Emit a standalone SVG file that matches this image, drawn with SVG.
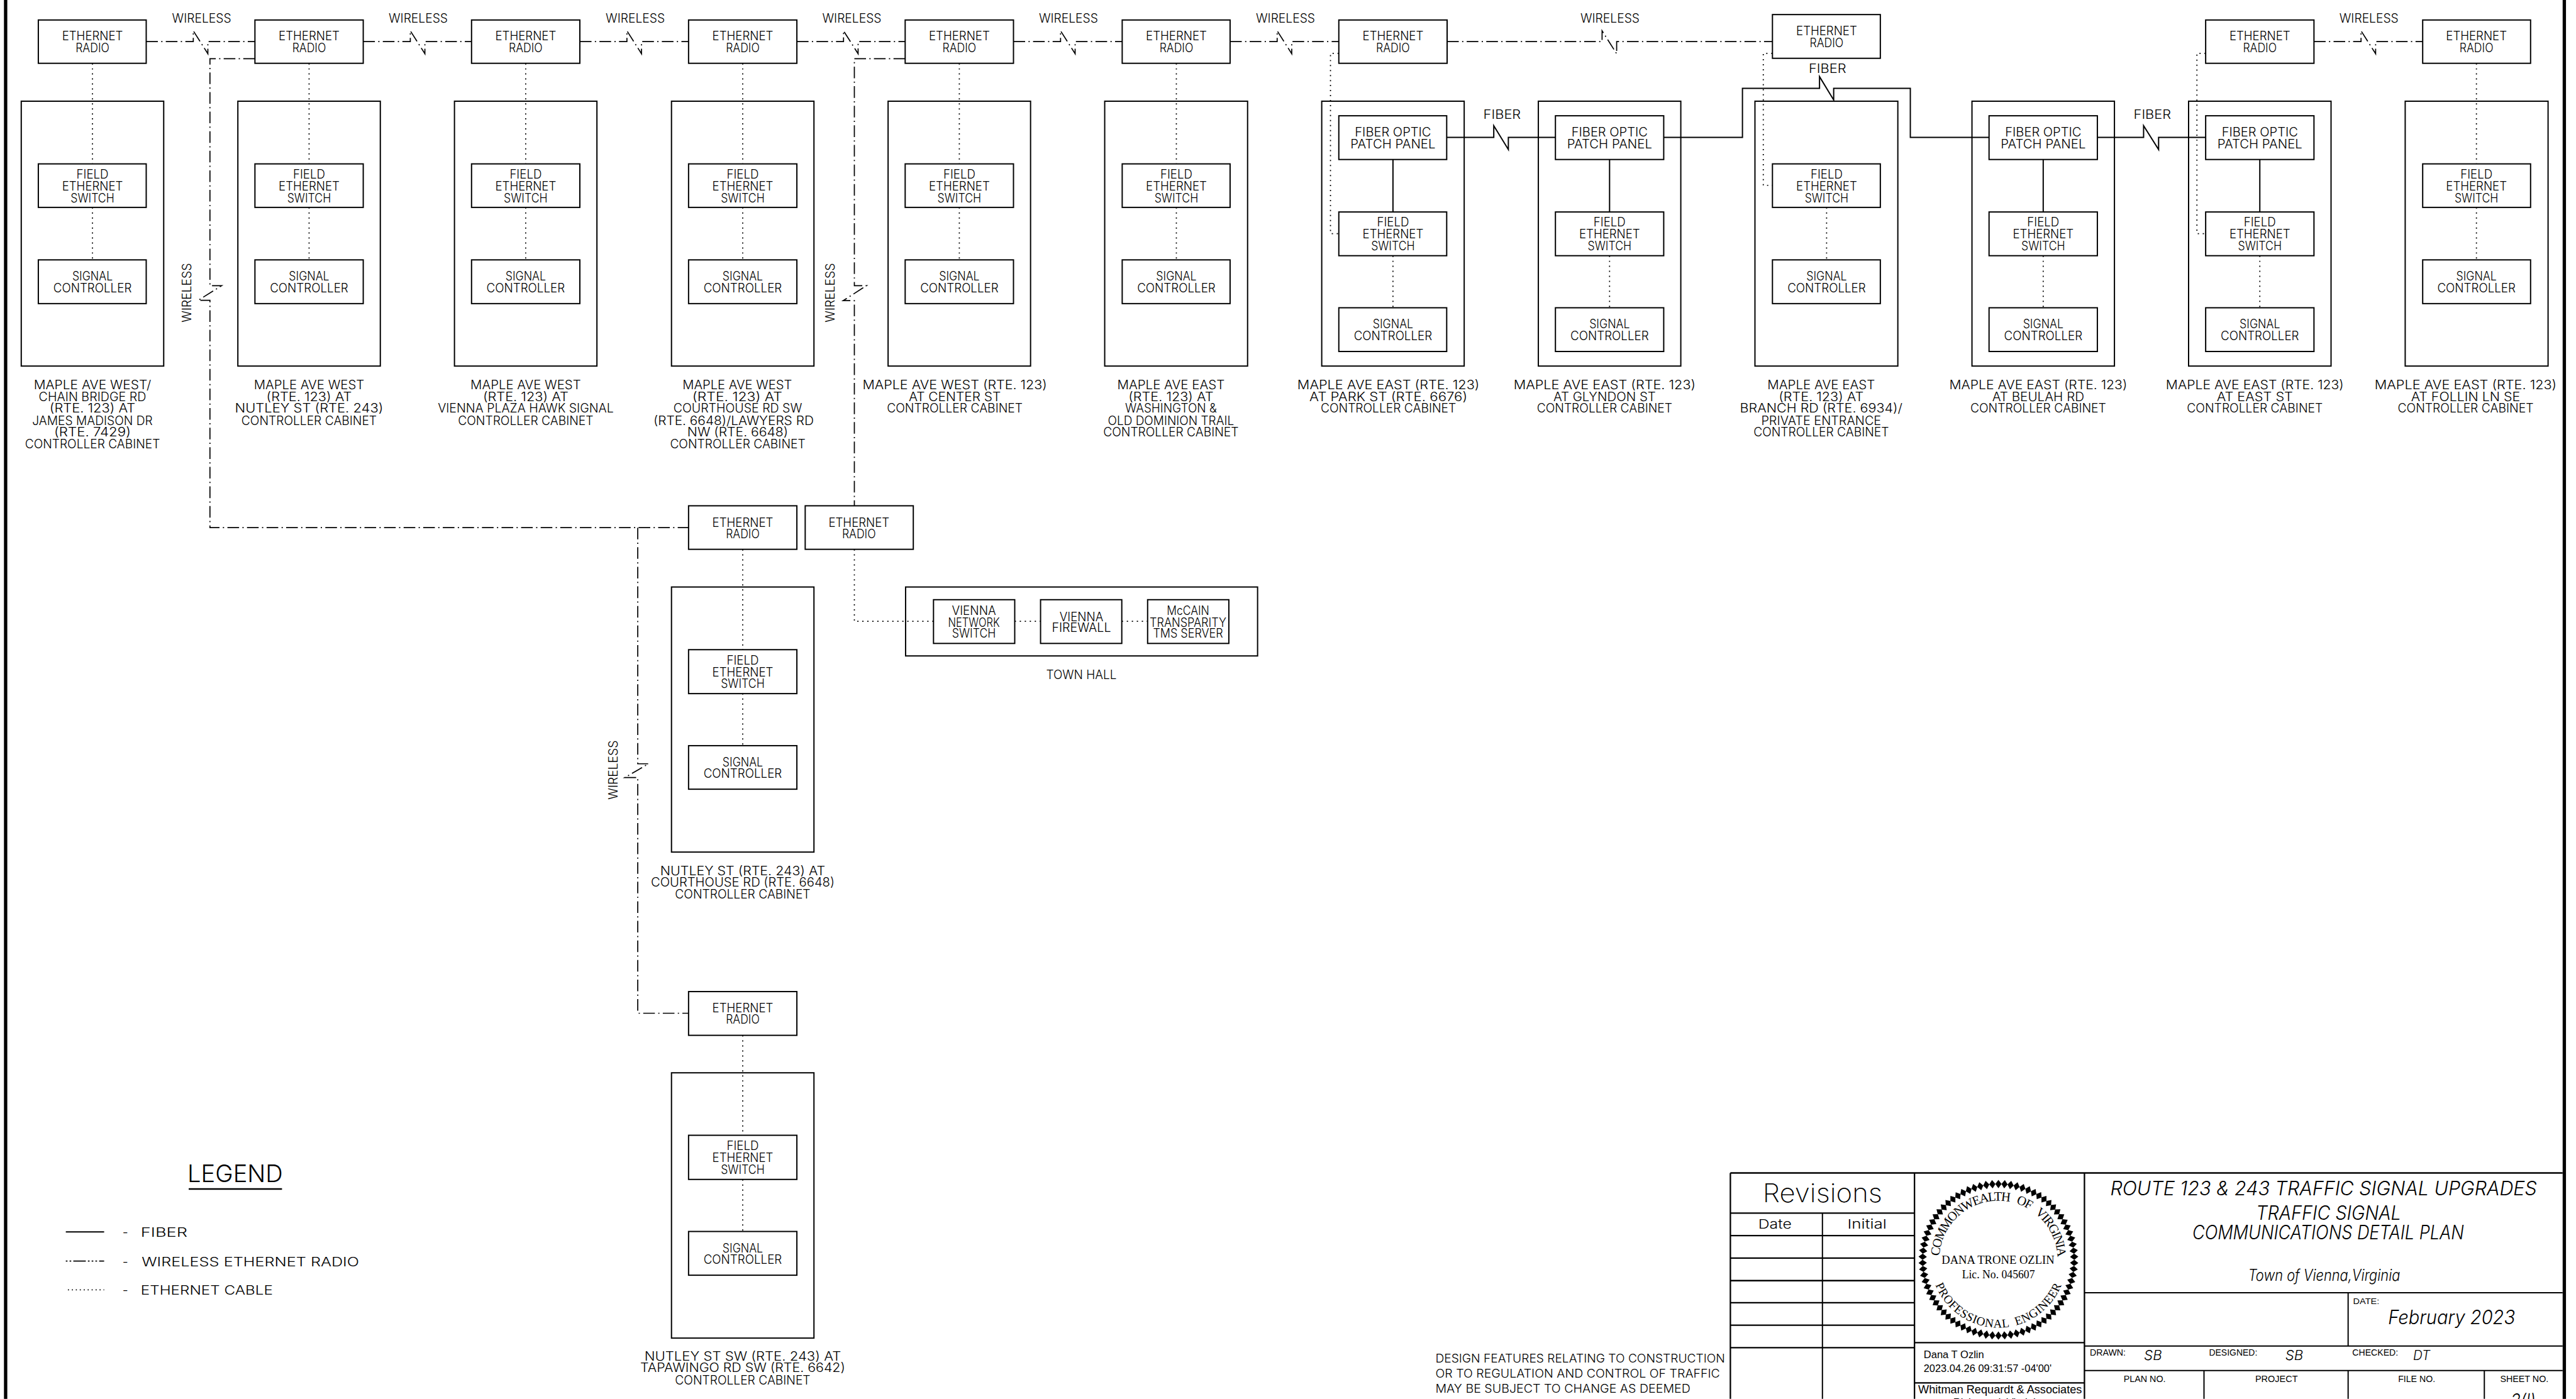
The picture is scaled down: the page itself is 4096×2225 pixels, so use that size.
<svg xmlns="http://www.w3.org/2000/svg" width="4096" height="2225" viewBox="0 0 4096 2225">
<style>
text{font-family:"Inter","Liberation Sans",Arial,sans-serif;font-weight:300;font-size:30px;text-anchor:middle;fill:#000}
.b{fill:none;stroke:#000;stroke-width:3}
.s{fill:none;stroke:#000;stroke-width:3}
.w{fill:none;stroke:#000;stroke-width:2.6;stroke-dasharray:28 8 3 8}
.d{fill:none;stroke:#000;stroke-width:2.6;stroke-dasharray:3 9}
.g{fill:none;stroke:#000;stroke-width:3.5}
.l{text-anchor:start}
.i{font-style:italic}
.f{font-family:"Liberation Serif",serif;font-weight:400}
.a{font-family:"Liberation Sans",Arial,sans-serif;font-weight:400}
</style>
<defs>
<polygon id="dia" points="4797.5,2833 4805,2843 4797.5,2853 4790,2843"/>
<g id="dia6"><use href="#dia"/><use href="#dia" transform="rotate(4.615 4797.5 3025)"/><use href="#dia" transform="rotate(9.23 4797.5 3025)"/><use href="#dia" transform="rotate(13.846 4797.5 3025)"/><use href="#dia" transform="rotate(18.46 4797.5 3025)"/><use href="#dia" transform="rotate(23.077 4797.5 3025)"/></g>
<path id="arcTop" d="M4655.5 3025A142 142 0 0 1 4939.5 3025"/>
<path id="arcBot" d="M4634.5 3025A163 163 0 0 0 4960.5 3025"/>
</defs>
<rect width="4096" height="2225" fill="#fff"/>
<g transform="scale(0.66235)">
<rect x="9.5" y="0" width="8" height="3359" fill="#000"/>
<rect x="6152" y="0" width="8" height="3359" fill="#000"/>

<g id="connectors">
<path class="w" d="M351 100H464V74L499 129V100H612"/>
<path class="w" d="M872 100H985V74L1020 129V100H1132"/>
<path class="w" d="M1392 100H1505V74L1540 129V100H1653"/>
<path class="w" d="M1913 100H2025V74L2060 129V100H2173"/>
<path class="w" d="M2433 100H2546V74L2581 129V100H2694"/>
<path class="w" d="M2953 100H3066V74L3101 129V100H3214"/>
<path class="w" d="M3474 100H3846V74L3881 129V100H4255"/>
<path class="w" d="M5555 100H5668V74L5703 129V100H5816"/>
<path class="w" d="M612 141H504V686H532L476 721H504V1267H1653"/>
<path class="w" d="M2173 141H2051V686H2080L2024 722H2051V1214"/>
<path class="w" d="M1531 1267V1834H1557L1500 1867H1531V2433H1653"/>
<path class="d" d="M222 152V393M222 498V624"/>
<path class="d" d="M742 152V393M742 498V624"/>
<path class="d" d="M1262 152V393M1262 498V624"/>
<path class="d" d="M1783 152V393M1783 498V624"/>
<path class="d" d="M2303 152V393M2303 498V624"/>
<path class="d" d="M2824 152V393M2824 498V624"/>
<path class="d" d="M3214 128H3194V561H3214M3344 614V739"/>
<path class="d" d="M3864 614V739"/>
<path class="d" d="M4255 128H4233V445H4255M4385 498V624"/>
<path class="d" d="M4905 614V739"/>
<path class="d" d="M5295 128H5274V561H5295M5425 614V739"/>
<path class="d" d="M5945 152V393M5945 498V624"/>
<path class="d" d="M1783 1319V1560M1783 1665V1790"/>
<path class="d" d="M2051 1319V1492H2241M2436 1492H2498M2693 1492H2755"/>
<path class="d" d="M1783 2486V2726M1783 2832V2957"/>
<path class="s" d="M3473 330H3586V302L3621 359V330H3734"/>
<path class="s" d="M3994 330H4183V212H4368V184L4402 240V212H4586V330H4775"/>
<path class="s" d="M5035 330H5146V302L5182 359V330H5295"/>
<path class="s" d="M3344 383V509M3864 383V509M4905 383V509M5425 383V509"/>
</g>

<g id="wireless-labels">
<text x="484" y="54" textLength="142" lengthAdjust="spacingAndGlyphs">WIRELESS</text>
<text x="1004" y="54" textLength="142" lengthAdjust="spacingAndGlyphs">WIRELESS</text>
<text x="1525" y="54" textLength="142" lengthAdjust="spacingAndGlyphs">WIRELESS</text>
<text x="2045" y="54" textLength="142" lengthAdjust="spacingAndGlyphs">WIRELESS</text>
<text x="2565" y="54" textLength="142" lengthAdjust="spacingAndGlyphs">WIRELESS</text>
<text x="3086" y="54" textLength="142" lengthAdjust="spacingAndGlyphs">WIRELESS</text>
<text x="3865" y="54" textLength="142" lengthAdjust="spacingAndGlyphs">WIRELESS</text>
<text x="5687" y="54" textLength="142" lengthAdjust="spacingAndGlyphs">WIRELESS</text>
<text x="459" y="703" transform="rotate(-90 459 703)" textLength="142" lengthAdjust="spacingAndGlyphs">WIRELESS</text>
<text x="2004" y="703" transform="rotate(-90 2004 703)" textLength="142" lengthAdjust="spacingAndGlyphs">WIRELESS</text>
<text x="1482" y="1849" transform="rotate(-90 1482 1849)" textLength="142" lengthAdjust="spacingAndGlyphs">WIRELESS</text>
<text x="3606" y="285" textLength="90" lengthAdjust="spacingAndGlyphs">FIBER</text>
<text x="4387" y="175" textLength="90" lengthAdjust="spacingAndGlyphs">FIBER</text>
<text x="5167" y="285" textLength="90" lengthAdjust="spacingAndGlyphs">FIBER</text>
</g>

<g id="col1">
<rect class="b" x="92" y="48" width="259" height="104"/>
<text x="222" y="97" textLength="146" lengthAdjust="spacingAndGlyphs">ETHERNET</text><text x="222" y="126" textLength="81" lengthAdjust="spacingAndGlyphs">RADIO</text>
<rect class="b" x="51" y="243" width="342" height="636"/>
<rect class="b" x="92" y="393.5" width="259" height="104.5"/>
<text x="222" y="429.5" textLength="77" lengthAdjust="spacingAndGlyphs">FIELD</text><text x="222" y="457.5" textLength="146" lengthAdjust="spacingAndGlyphs">ETHERNET</text><text x="222" y="486" textLength="105" lengthAdjust="spacingAndGlyphs">SWITCH</text>
<rect class="b" x="92" y="624" width="259" height="105"/>
<text x="222" y="674" textLength="97" lengthAdjust="spacingAndGlyphs">SIGNAL</text><text x="222" y="702.5" textLength="188" lengthAdjust="spacingAndGlyphs">CONTROLLER</text>
<text x="222" y="935" textLength="282" lengthAdjust="spacingAndGlyphs">MAPLE AVE WEST/</text>
<text x="222" y="963" textLength="258" lengthAdjust="spacingAndGlyphs">CHAIN BRIDGE RD</text>
<text x="222" y="991" textLength="206" lengthAdjust="spacingAndGlyphs">(RTE. 123) AT</text>
<text x="222" y="1020" textLength="289" lengthAdjust="spacingAndGlyphs">JAMES MADISON DR</text>
<text x="222" y="1048" textLength="184" lengthAdjust="spacingAndGlyphs">(RTE. 7429)</text>
<text x="222" y="1076" textLength="324" lengthAdjust="spacingAndGlyphs">CONTROLLER CABINET</text>
</g>

<g id="col2">
<rect class="b" x="612" y="48" width="260" height="104"/>
<text x="742" y="97" textLength="146" lengthAdjust="spacingAndGlyphs">ETHERNET</text><text x="742" y="126" textLength="81" lengthAdjust="spacingAndGlyphs">RADIO</text>
<rect class="b" x="571" y="243" width="342" height="636"/>
<rect class="b" x="612" y="393.5" width="260" height="104.5"/>
<text x="742" y="429.5" textLength="77" lengthAdjust="spacingAndGlyphs">FIELD</text><text x="742" y="457.5" textLength="146" lengthAdjust="spacingAndGlyphs">ETHERNET</text><text x="742" y="486" textLength="105" lengthAdjust="spacingAndGlyphs">SWITCH</text>
<rect class="b" x="612" y="624" width="260" height="105"/>
<text x="742" y="674" textLength="97" lengthAdjust="spacingAndGlyphs">SIGNAL</text><text x="742" y="702.5" textLength="188" lengthAdjust="spacingAndGlyphs">CONTROLLER</text>
<text x="742" y="935" textLength="265" lengthAdjust="spacingAndGlyphs">MAPLE AVE WEST</text>
<text x="742" y="963" textLength="205" lengthAdjust="spacingAndGlyphs">(RTE. 123) AT</text>
<text x="742" y="991" textLength="356" lengthAdjust="spacingAndGlyphs">NUTLEY ST (RTE. 243)</text>
<text x="742" y="1020" textLength="325" lengthAdjust="spacingAndGlyphs">CONTROLLER CABINET</text>
</g>

<g id="col3">
<rect class="b" x="1132" y="48" width="260" height="104"/>
<text x="1262" y="97" textLength="146" lengthAdjust="spacingAndGlyphs">ETHERNET</text><text x="1262" y="126" textLength="81" lengthAdjust="spacingAndGlyphs">RADIO</text>
<rect class="b" x="1091" y="243" width="342" height="636"/>
<rect class="b" x="1132" y="393.5" width="260" height="104.5"/>
<text x="1262" y="429.5" textLength="77" lengthAdjust="spacingAndGlyphs">FIELD</text><text x="1262" y="457.5" textLength="146" lengthAdjust="spacingAndGlyphs">ETHERNET</text><text x="1262" y="486" textLength="105" lengthAdjust="spacingAndGlyphs">SWITCH</text>
<rect class="b" x="1132" y="624" width="260" height="105"/>
<text x="1262" y="674" textLength="97" lengthAdjust="spacingAndGlyphs">SIGNAL</text><text x="1262" y="702.5" textLength="188" lengthAdjust="spacingAndGlyphs">CONTROLLER</text>
<text x="1262" y="935" textLength="265" lengthAdjust="spacingAndGlyphs">MAPLE AVE WEST</text>
<text x="1262" y="963" textLength="205" lengthAdjust="spacingAndGlyphs">(RTE. 123) AT</text>
<text x="1262" y="991" textLength="422" lengthAdjust="spacingAndGlyphs">VIENNA PLAZA HAWK SIGNAL</text>
<text x="1262" y="1020" textLength="325" lengthAdjust="spacingAndGlyphs">CONTROLLER CABINET</text>
</g>

<g id="col4">
<rect class="b" x="1653" y="48" width="260" height="104"/>
<text x="1783" y="97" textLength="146" lengthAdjust="spacingAndGlyphs">ETHERNET</text><text x="1783" y="126" textLength="81" lengthAdjust="spacingAndGlyphs">RADIO</text>
<rect class="b" x="1612" y="243" width="342" height="636"/>
<rect class="b" x="1653" y="393.5" width="260" height="104.5"/>
<text x="1783" y="429.5" textLength="77" lengthAdjust="spacingAndGlyphs">FIELD</text><text x="1783" y="457.5" textLength="146" lengthAdjust="spacingAndGlyphs">ETHERNET</text><text x="1783" y="486" textLength="105" lengthAdjust="spacingAndGlyphs">SWITCH</text>
<rect class="b" x="1653" y="624" width="260" height="105"/>
<text x="1783" y="674" textLength="97" lengthAdjust="spacingAndGlyphs">SIGNAL</text><text x="1783" y="702.5" textLength="188" lengthAdjust="spacingAndGlyphs">CONTROLLER</text>
<text x="1770" y="935" textLength="263" lengthAdjust="spacingAndGlyphs">MAPLE AVE WEST</text>
<text x="1770" y="963" textLength="216" lengthAdjust="spacingAndGlyphs">(RTE. 123) AT</text>
<text x="1771" y="991" textLength="309" lengthAdjust="spacingAndGlyphs">COURTHOUSE RD SW</text>
<text x="1761" y="1020" textLength="385" lengthAdjust="spacingAndGlyphs">(RTE. 6648)/LAWYERS RD</text>
<text x="1771" y="1048" textLength="242" lengthAdjust="spacingAndGlyphs">NW (RTE. 6648)</text>
<text x="1771" y="1076" textLength="325" lengthAdjust="spacingAndGlyphs">CONTROLLER CABINET</text>
</g>

<g id="col5">
<rect class="b" x="2173" y="48" width="260" height="104"/>
<text x="2303" y="97" textLength="146" lengthAdjust="spacingAndGlyphs">ETHERNET</text><text x="2303" y="126" textLength="81" lengthAdjust="spacingAndGlyphs">RADIO</text>
<rect class="b" x="2132" y="243" width="342" height="636"/>
<rect class="b" x="2173" y="393.5" width="260" height="104.5"/>
<text x="2303" y="429.5" textLength="77" lengthAdjust="spacingAndGlyphs">FIELD</text><text x="2303" y="457.5" textLength="146" lengthAdjust="spacingAndGlyphs">ETHERNET</text><text x="2303" y="486" textLength="105" lengthAdjust="spacingAndGlyphs">SWITCH</text>
<rect class="b" x="2173" y="624" width="260" height="105"/>
<text x="2303" y="674" textLength="97" lengthAdjust="spacingAndGlyphs">SIGNAL</text><text x="2303" y="702.5" textLength="188" lengthAdjust="spacingAndGlyphs">CONTROLLER</text>
<text x="2292" y="935" textLength="443" lengthAdjust="spacingAndGlyphs">MAPLE AVE WEST (RTE. 123)</text>
<text x="2292" y="963" textLength="221" lengthAdjust="spacingAndGlyphs">AT CENTER ST</text>
<text x="2292" y="991" textLength="326" lengthAdjust="spacingAndGlyphs">CONTROLLER CABINET</text>
</g>

<g id="col6">
<rect class="b" x="2694" y="48" width="259" height="104"/>
<text x="2824" y="97" textLength="146" lengthAdjust="spacingAndGlyphs">ETHERNET</text><text x="2824" y="126" textLength="81" lengthAdjust="spacingAndGlyphs">RADIO</text>
<rect class="b" x="2652" y="243" width="343" height="636"/>
<rect class="b" x="2694" y="393.5" width="259" height="104.5"/>
<text x="2824" y="429.5" textLength="77" lengthAdjust="spacingAndGlyphs">FIELD</text><text x="2824" y="457.5" textLength="146" lengthAdjust="spacingAndGlyphs">ETHERNET</text><text x="2824" y="486" textLength="105" lengthAdjust="spacingAndGlyphs">SWITCH</text>
<rect class="b" x="2694" y="624" width="259" height="105"/>
<text x="2824" y="674" textLength="97" lengthAdjust="spacingAndGlyphs">SIGNAL</text><text x="2824" y="702.5" textLength="188" lengthAdjust="spacingAndGlyphs">CONTROLLER</text>
<text x="2811" y="935" textLength="258" lengthAdjust="spacingAndGlyphs">MAPLE AVE EAST</text>
<text x="2811" y="963" textLength="204" lengthAdjust="spacingAndGlyphs">(RTE. 123) AT</text>
<text x="2811" y="991" textLength="220" lengthAdjust="spacingAndGlyphs">WASHINGTON &amp;</text>
<text x="2811" y="1020" textLength="303" lengthAdjust="spacingAndGlyphs">OLD DOMINION TRAIL</text>
<text x="2811" y="1048" textLength="325" lengthAdjust="spacingAndGlyphs">CONTROLLER CABINET</text>
</g>

<g id="col7">
<rect class="b" x="3214" y="48" width="260" height="104"/>
<text x="3344" y="97" textLength="146" lengthAdjust="spacingAndGlyphs">ETHERNET</text><text x="3344" y="126" textLength="81" lengthAdjust="spacingAndGlyphs">RADIO</text>
<rect class="b" x="3173" y="243" width="342" height="636"/>
<rect class="b" x="3214" y="278" width="259" height="105"/>
<text x="3344" y="328" textLength="183" lengthAdjust="spacingAndGlyphs">FIBER OPTIC</text><text x="3344" y="356" textLength="204" lengthAdjust="spacingAndGlyphs">PATCH PANEL</text>
<rect class="b" x="3214" y="509" width="259" height="105"/>
<text x="3344" y="544" textLength="77" lengthAdjust="spacingAndGlyphs">FIELD</text><text x="3344" y="572" textLength="146" lengthAdjust="spacingAndGlyphs">ETHERNET</text><text x="3344" y="601" textLength="105" lengthAdjust="spacingAndGlyphs">SWITCH</text>
<rect class="b" x="3214" y="739" width="259" height="105"/>
<text x="3344" y="788" textLength="97" lengthAdjust="spacingAndGlyphs">SIGNAL</text><text x="3344" y="817" textLength="188" lengthAdjust="spacingAndGlyphs">CONTROLLER</text>
<text x="3333" y="935" textLength="437" lengthAdjust="spacingAndGlyphs">MAPLE AVE EAST (RTE. 123)</text>
<text x="3333" y="963" textLength="379" lengthAdjust="spacingAndGlyphs">AT PARK ST (RTE. 6676)</text>
<text x="3333" y="991" textLength="325" lengthAdjust="spacingAndGlyphs">CONTROLLER CABINET</text>
</g>

<g id="col8">
<rect class="b" x="3693" y="243" width="342" height="636"/>
<rect class="b" x="3734" y="278" width="260" height="105"/>
<text x="3864" y="328" textLength="183" lengthAdjust="spacingAndGlyphs">FIBER OPTIC</text><text x="3864" y="356" textLength="204" lengthAdjust="spacingAndGlyphs">PATCH PANEL</text>
<rect class="b" x="3734" y="509" width="260" height="105"/>
<text x="3864" y="544" textLength="77" lengthAdjust="spacingAndGlyphs">FIELD</text><text x="3864" y="572" textLength="146" lengthAdjust="spacingAndGlyphs">ETHERNET</text><text x="3864" y="601" textLength="105" lengthAdjust="spacingAndGlyphs">SWITCH</text>
<rect class="b" x="3734" y="739" width="260" height="105"/>
<text x="3864" y="788" textLength="97" lengthAdjust="spacingAndGlyphs">SIGNAL</text><text x="3864" y="817" textLength="188" lengthAdjust="spacingAndGlyphs">CONTROLLER</text>
<text x="3852" y="935" textLength="437" lengthAdjust="spacingAndGlyphs">MAPLE AVE EAST (RTE. 123)</text>
<text x="3852" y="963" textLength="246" lengthAdjust="spacingAndGlyphs">AT GLYNDON ST</text>
<text x="3852" y="991" textLength="325" lengthAdjust="spacingAndGlyphs">CONTROLLER CABINET</text>
</g>

<g id="col9">
<rect class="b" x="4255" y="35" width="259" height="105"/>
<text x="4385" y="84" textLength="146" lengthAdjust="spacingAndGlyphs">ETHERNET</text><text x="4385" y="113" textLength="81" lengthAdjust="spacingAndGlyphs">RADIO</text>
<rect class="b" x="4213" y="243" width="343" height="636"/>
<rect class="b" x="4255" y="393.5" width="259" height="104.5"/>
<text x="4385" y="429.5" textLength="77" lengthAdjust="spacingAndGlyphs">FIELD</text><text x="4385" y="457.5" textLength="146" lengthAdjust="spacingAndGlyphs">ETHERNET</text><text x="4385" y="486" textLength="105" lengthAdjust="spacingAndGlyphs">SWITCH</text>
<rect class="b" x="4255" y="624" width="259" height="105"/>
<text x="4385" y="674" textLength="97" lengthAdjust="spacingAndGlyphs">SIGNAL</text><text x="4385" y="702.5" textLength="188" lengthAdjust="spacingAndGlyphs">CONTROLLER</text>
<text x="4372" y="935" textLength="258" lengthAdjust="spacingAndGlyphs">MAPLE AVE EAST</text>
<text x="4372" y="963" textLength="204" lengthAdjust="spacingAndGlyphs">(RTE. 123) AT</text>
<text x="4372" y="991" textLength="390" lengthAdjust="spacingAndGlyphs">BRANCH RD (RTE. 6934)/</text>
<text x="4372" y="1020" textLength="288" lengthAdjust="spacingAndGlyphs">PRIVATE ENTRANCE</text>
<text x="4372" y="1048" textLength="325" lengthAdjust="spacingAndGlyphs">CONTROLLER CABINET</text>
</g>

<g id="col10">
<rect class="b" x="4734" y="243" width="342" height="636"/>
<rect class="b" x="4775" y="278" width="260" height="105"/>
<text x="4905" y="328" textLength="183" lengthAdjust="spacingAndGlyphs">FIBER OPTIC</text><text x="4905" y="356" textLength="204" lengthAdjust="spacingAndGlyphs">PATCH PANEL</text>
<rect class="b" x="4775" y="509" width="260" height="105"/>
<text x="4905" y="544" textLength="77" lengthAdjust="spacingAndGlyphs">FIELD</text><text x="4905" y="572" textLength="146" lengthAdjust="spacingAndGlyphs">ETHERNET</text><text x="4905" y="601" textLength="105" lengthAdjust="spacingAndGlyphs">SWITCH</text>
<rect class="b" x="4775" y="739" width="260" height="105"/>
<text x="4905" y="788" textLength="97" lengthAdjust="spacingAndGlyphs">SIGNAL</text><text x="4905" y="817" textLength="188" lengthAdjust="spacingAndGlyphs">CONTROLLER</text>
<text x="4893" y="935" textLength="427" lengthAdjust="spacingAndGlyphs">MAPLE AVE EAST (RTE. 123)</text>
<text x="4893" y="963" textLength="221" lengthAdjust="spacingAndGlyphs">AT BEULAH RD</text>
<text x="4893" y="991" textLength="326" lengthAdjust="spacingAndGlyphs">CONTROLLER CABINET</text>
</g>

<g id="col11">
<rect class="b" x="5295" y="48" width="260" height="104"/>
<text x="5425" y="97" textLength="146" lengthAdjust="spacingAndGlyphs">ETHERNET</text><text x="5425" y="126" textLength="81" lengthAdjust="spacingAndGlyphs">RADIO</text>
<rect class="b" x="5254" y="243" width="342" height="636"/>
<rect class="b" x="5295" y="278" width="260" height="105"/>
<text x="5425" y="328" textLength="183" lengthAdjust="spacingAndGlyphs">FIBER OPTIC</text><text x="5425" y="356" textLength="204" lengthAdjust="spacingAndGlyphs">PATCH PANEL</text>
<rect class="b" x="5295" y="509" width="260" height="105"/>
<text x="5425" y="544" textLength="77" lengthAdjust="spacingAndGlyphs">FIELD</text><text x="5425" y="572" textLength="146" lengthAdjust="spacingAndGlyphs">ETHERNET</text><text x="5425" y="601" textLength="105" lengthAdjust="spacingAndGlyphs">SWITCH</text>
<rect class="b" x="5295" y="739" width="260" height="105"/>
<text x="5425" y="788" textLength="97" lengthAdjust="spacingAndGlyphs">SIGNAL</text><text x="5425" y="817" textLength="188" lengthAdjust="spacingAndGlyphs">CONTROLLER</text>
<text x="5413" y="935" textLength="427" lengthAdjust="spacingAndGlyphs">MAPLE AVE EAST (RTE. 123)</text>
<text x="5413" y="963" textLength="183" lengthAdjust="spacingAndGlyphs">AT EAST ST</text>
<text x="5413" y="991" textLength="326" lengthAdjust="spacingAndGlyphs">CONTROLLER CABINET</text>
</g>

<g id="col12">
<rect class="b" x="5816" y="48" width="259" height="104"/>
<text x="5945" y="97" textLength="146" lengthAdjust="spacingAndGlyphs">ETHERNET</text><text x="5945" y="126" textLength="81" lengthAdjust="spacingAndGlyphs">RADIO</text>
<rect class="b" x="5774" y="243" width="343" height="636"/>
<rect class="b" x="5816" y="393.5" width="259" height="104.5"/>
<text x="5945" y="429.5" textLength="77" lengthAdjust="spacingAndGlyphs">FIELD</text><text x="5945" y="457.5" textLength="146" lengthAdjust="spacingAndGlyphs">ETHERNET</text><text x="5945" y="486" textLength="105" lengthAdjust="spacingAndGlyphs">SWITCH</text>
<rect class="b" x="5816" y="624" width="259" height="105"/>
<text x="5945" y="674" textLength="97" lengthAdjust="spacingAndGlyphs">SIGNAL</text><text x="5945" y="702.5" textLength="188" lengthAdjust="spacingAndGlyphs">CONTROLLER</text>
<text x="5919" y="935" textLength="437" lengthAdjust="spacingAndGlyphs">MAPLE AVE EAST (RTE. 123)</text>
<text x="5919" y="963" textLength="262" lengthAdjust="spacingAndGlyphs">AT FOLLIN LN SE</text>
<text x="5919" y="991" textLength="326" lengthAdjust="spacingAndGlyphs">CONTROLLER CABINET</text>
</g>

<g id="nutley-courthouse">
<rect class="b" x="1653" y="1214.5" width="260" height="104.5"/>
<text x="1783" y="1265" textLength="146" lengthAdjust="spacingAndGlyphs">ETHERNET</text><text x="1783" y="1292" textLength="81" lengthAdjust="spacingAndGlyphs">RADIO</text>
<rect class="b" x="1612" y="1409.5" width="342" height="636.5"/>
<rect class="b" x="1653" y="1560" width="260" height="105.5"/>
<text x="1783" y="1596" textLength="77" lengthAdjust="spacingAndGlyphs">FIELD</text><text x="1783" y="1624" textLength="146" lengthAdjust="spacingAndGlyphs">ETHERNET</text><text x="1783" y="1652" textLength="105" lengthAdjust="spacingAndGlyphs">SWITCH</text>
<rect class="b" x="1653" y="1790.5" width="260" height="104.5"/>
<text x="1783" y="1840" textLength="97" lengthAdjust="spacingAndGlyphs">SIGNAL</text><text x="1783" y="1868" textLength="188" lengthAdjust="spacingAndGlyphs">CONTROLLER</text>
<text x="1783" y="2101" textLength="396" lengthAdjust="spacingAndGlyphs">NUTLEY ST (RTE. 243) AT</text>
<text x="1783" y="2129" textLength="441" lengthAdjust="spacingAndGlyphs">COURTHOUSE RD (RTE. 6648)</text>
<text x="1783" y="2157" textLength="325" lengthAdjust="spacingAndGlyphs">CONTROLLER CABINET</text>
</g>

<g id="town-hall">
<rect class="b" x="1933" y="1214.5" width="259.5" height="104.5"/>
<text x="2062" y="1265" textLength="146" lengthAdjust="spacingAndGlyphs">ETHERNET</text><text x="2062" y="1292" textLength="81" lengthAdjust="spacingAndGlyphs">RADIO</text>
<rect class="b" x="2174" y="1409.5" width="845" height="165.5"/>
<rect class="b" x="2241" y="1440" width="195" height="105"/>
<text x="2338" y="1477" textLength="106" lengthAdjust="spacingAndGlyphs">VIENNA</text><text x="2338" y="1504.5" textLength="124" lengthAdjust="spacingAndGlyphs">NETWORK</text><text x="2338" y="1531.5" textLength="105" lengthAdjust="spacingAndGlyphs">SWITCH</text>
<rect class="b" x="2498" y="1440" width="195" height="105"/>
<text x="2596" y="1491" textLength="105" lengthAdjust="spacingAndGlyphs">VIENNA</text><text x="2596" y="1518" textLength="142" lengthAdjust="spacingAndGlyphs">FIREWALL</text>
<rect class="b" x="2755" y="1440" width="195" height="105"/>
<text x="2852" y="1477" textLength="102" lengthAdjust="spacingAndGlyphs">McCAIN</text><text x="2852" y="1504.5" textLength="184" lengthAdjust="spacingAndGlyphs">TRANSPARITY</text><text x="2852" y="1531.5" textLength="168" lengthAdjust="spacingAndGlyphs">TMS SERVER</text>
<text x="2596" y="1631" textLength="169" lengthAdjust="spacingAndGlyphs">TOWN HALL</text>
</g>

<g id="nutley-tapawingo">
<rect class="b" x="1653" y="2381" width="260" height="105"/>
<text x="1783" y="2431" textLength="146" lengthAdjust="spacingAndGlyphs">ETHERNET</text><text x="1783" y="2458" textLength="81" lengthAdjust="spacingAndGlyphs">RADIO</text>
<rect class="b" x="1612" y="2576" width="342" height="637"/>
<rect class="b" x="1653" y="2726" width="260" height="106"/>
<text x="1783" y="2762" textLength="77" lengthAdjust="spacingAndGlyphs">FIELD</text><text x="1783" y="2790" textLength="146" lengthAdjust="spacingAndGlyphs">ETHERNET</text><text x="1783" y="2818" textLength="105" lengthAdjust="spacingAndGlyphs">SWITCH</text>
<rect class="b" x="1653" y="2957" width="260" height="105"/>
<text x="1783" y="3007" textLength="97" lengthAdjust="spacingAndGlyphs">SIGNAL</text><text x="1783" y="3035" textLength="188" lengthAdjust="spacingAndGlyphs">CONTROLLER</text>
<text x="1783" y="3267" textLength="472" lengthAdjust="spacingAndGlyphs">NUTLEY ST SW (RTE. 243) AT</text>
<text x="1783" y="3295" textLength="492" lengthAdjust="spacingAndGlyphs">TAPAWINGO RD SW (RTE. 6642)</text>
<text x="1783" y="3324" textLength="325" lengthAdjust="spacingAndGlyphs">CONTROLLER CABINET</text>
</g>

<g id="legend">
<text x="564.5" y="2839" style="font-size:58px" textLength="229" lengthAdjust="spacingAndGlyphs">LEGEND</text>
<path d="M453 2855H677" stroke="#000" stroke-width="4" fill="none"/>
<path class="s" d="M158 2958H250"/>
<path class="w" d="M158 3028H250" style="stroke-dasharray:4 5 4 5 30 5 4 5"/>
<path class="d" d="M163 3097H250" style="stroke-dasharray:2.5 7"/>
<text x="301" y="2970">-</text><text x="301" y="3040">-</text><text x="301" y="3109">-</text>
<text class="l" x="338" y="2970" textLength="112" lengthAdjust="spacingAndGlyphs">FIBER</text>
<text class="l" x="340" y="3040" textLength="522" lengthAdjust="spacingAndGlyphs">WIRELESS ETHERNET RADIO</text>
<text class="l" x="338" y="3109" textLength="317" lengthAdjust="spacingAndGlyphs">ETHERNET CABLE</text>
</g>

<g id="notes">
<text class="l" style="font-size:28px" x="3446" y="3272" textLength="695" lengthAdjust="spacingAndGlyphs">DESIGN FEATURES RELATING TO CONSTRUCTION</text>
<text class="l" style="font-size:28px" x="3446" y="3308" textLength="683" lengthAdjust="spacingAndGlyphs">OR TO REGULATION AND CONTROL OF TRAFFIC</text>
<text class="l" style="font-size:28px" x="3446" y="3344" textLength="612" lengthAdjust="spacingAndGlyphs">MAY BE SUBJECT TO CHANGE AS DEEMED</text>
</g>

<g id="title-block">
<path class="g" d="M4154 2816.5H6152M4154 2816.5V3359M4596 2816.5V3359M5004 2816.5V3359"/>
<path class="g" d="M4154 2913H4596M4154 2967H4596M4154 3021H4596M4154 3075H4596M4154 3128H4596M4154 3182H4596M4154 3236H4596M4596 3224H5004M4596 3320.5H5004"/>
<path class="s" d="M4375 2913V3359M5004 3104H6152M5004 3232H6152M5004 3291H6152M5637 3104V3232M5291 3291V3359M5637 3291V3359M5964 3291V3359"/>
<text x="4375" y="2887" style="font-size:62px;font-weight:200" textLength="287" lengthAdjust="spacingAndGlyphs">Revisions</text>
<text x="4261" y="2950" style="font-size:31px" textLength="80" lengthAdjust="spacingAndGlyphs">Date</text>
<text x="4482" y="2950" style="font-size:31px" textLength="94" lengthAdjust="spacingAndGlyphs">Initial</text>
<text class="l a" x="4618" y="3261" style="font-size:24px" textLength="145" lengthAdjust="spacingAndGlyphs">Dana T Ozlin</text>
<text class="l a" x="4618" y="3294" style="font-size:24px" textLength="307" lengthAdjust="spacingAndGlyphs">2023.04.26 09:31:57 -04'00'</text>
<text class="l a" x="4605" y="3345" style="font-size:28px" textLength="393" lengthAdjust="spacingAndGlyphs">Whitman Requardt &amp; Associates</text>
<text class="a" x="4795" y="3378" style="font-size:28px" textLength="212" lengthAdjust="spacingAndGlyphs">Richmond, Virginia</text>
<text class="i" x="5578" y="2870.5" style="font-size:46px" textLength="1024" lengthAdjust="spacingAndGlyphs">ROUTE 123 &amp; 243 TRAFFIC SIGNAL UPGRADES</text>
<text class="i" x="5590" y="2929" style="font-size:46px" textLength="348" lengthAdjust="spacingAndGlyphs">TRAFFIC SIGNAL</text>
<text class="i" x="5589" y="2976" style="font-size:46px" textLength="652" lengthAdjust="spacingAndGlyphs">COMMUNICATIONS DETAIL PLAN</text>
<text class="i" x="5579.5" y="3075" style="font-size:38px" textLength="365" lengthAdjust="spacingAndGlyphs">Town of Vienna,Virginia</text>
<text class="l a" x="5649" y="3131" style="font-size:20px" textLength="63" lengthAdjust="spacingAndGlyphs">DATE:</text>
<text class="i" x="5885.5" y="3179.5" style="font-size:46px" textLength="305" lengthAdjust="spacingAndGlyphs">February 2023</text>
<text class="l a" x="5017" y="3254.5" style="font-size:22px" textLength="86" lengthAdjust="spacingAndGlyphs">DRAWN:</text>
<text class="l i" x="5147" y="3265.5" style="font-size:33px" textLength="43" lengthAdjust="spacingAndGlyphs">SB</text>
<text class="l a" x="5303" y="3254.5" style="font-size:22px" textLength="116" lengthAdjust="spacingAndGlyphs">DESIGNED:</text>
<text class="l i" x="5486" y="3265.5" style="font-size:33px" textLength="43" lengthAdjust="spacingAndGlyphs">SB</text>
<text class="l a" x="5647" y="3254.5" style="font-size:22px" textLength="110" lengthAdjust="spacingAndGlyphs">CHECKED:</text>
<text class="l i" x="5793" y="3265.5" style="font-size:33px" textLength="41" lengthAdjust="spacingAndGlyphs">DT</text>
<text class="a" x="5148.5" y="3318" style="font-size:21px" textLength="101" lengthAdjust="spacingAndGlyphs">PLAN NO.</text>
<text class="a" x="5465" y="3318" style="font-size:21px" textLength="102" lengthAdjust="spacingAndGlyphs">PROJECT</text>
<text class="a" x="5801.5" y="3318" style="font-size:21px" textLength="89" lengthAdjust="spacingAndGlyphs">FILE NO.</text>
<text class="a" x="6060" y="3318" style="font-size:21px" textLength="116" lengthAdjust="spacingAndGlyphs">SHEET NO.</text>
<text class="i" x="6057" y="3380" style="font-size:46px" textLength="60" lengthAdjust="spacingAndGlyphs">3(l)</text>
</g>

<g id="seal">
<g id="seal-ring">
<use href="#dia6"/><use href="#dia6" transform="rotate(27.692 4797.5 3025)"/><use href="#dia6" transform="rotate(55.385 4797.5 3025)"/><use href="#dia6" transform="rotate(83.077 4797.5 3025)"/><use href="#dia6" transform="rotate(110.769 4797.5 3025)"/><use href="#dia6" transform="rotate(138.462 4797.5 3025)"/><use href="#dia6" transform="rotate(166.154 4797.5 3025)"/><use href="#dia6" transform="rotate(193.846 4797.5 3025)"/><use href="#dia6" transform="rotate(221.538 4797.5 3025)"/><use href="#dia6" transform="rotate(249.231 4797.5 3025)"/><use href="#dia6" transform="rotate(276.923 4797.5 3025)"/><use href="#dia6" transform="rotate(304.615 4797.5 3025)"/><use href="#dia6" transform="rotate(332.308 4797.5 3025)"/>
</g>
<text class="f" style="font-size:31px;letter-spacing:-2.6px;word-spacing:12px"><textPath href="#arcTop" startOffset="50%">COMMONWEALTH OF VIRGINIA</textPath></text>
<text class="f" style="font-size:29px;letter-spacing:0.8px;word-spacing:8px"><textPath href="#arcBot" startOffset="50%">PROFESSIONAL ENGINEER</textPath></text>
<text class="f" x="4796.5" y="3035" style="font-size:30px" textLength="271" lengthAdjust="spacingAndGlyphs">DANA  TRONE  OZLIN</text>
<text class="f" x="4797.5" y="3070" style="font-size:29px" textLength="175" lengthAdjust="spacingAndGlyphs">Lic. No. 045607</text>
</g>
</g>
</svg>
